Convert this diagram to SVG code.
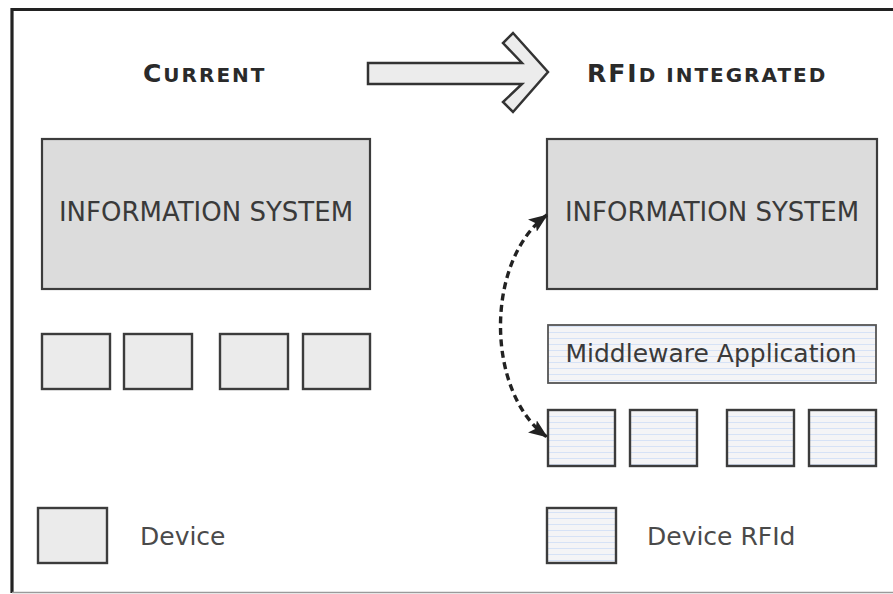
<svg xmlns="http://www.w3.org/2000/svg" width="893" height="594" viewBox="0 0 893 594">
  <defs>
    <pattern id="stripes" patternUnits="userSpaceOnUse" width="10" height="6">
      <rect width="10" height="6" fill="#f4f4f6"/>
      <rect y="2" width="10" height="1" fill="#d6e2f6"/>
    </pattern>
    <marker id="ah" viewBox="0 0 19 15" markerWidth="19" markerHeight="15" refX="18" refY="7.5" orient="auto-start-reverse" markerUnits="userSpaceOnUse">
      <path d="M0,0 L19,7.5 L0,15 L4,7.5 z" fill="#222"/>
    </marker>
    <style>
      .is { fill: #dcdcdc; stroke: #3c3c3c; stroke-width: 2.2; }
      .dev { fill: #ebebeb; stroke: #3c3c3c; stroke-width: 2.4; }
      .rfid { fill: url(#stripes); stroke: #3c3c3c; stroke-width: 2.4; }
      .mw { fill: url(#stripes); stroke: #555; stroke-width: 1.8; }
      .lbl { font-family: "DejaVu Sans", Verdana, sans-serif; font-size: 25px; fill: #3a3a3a; }
      .big { font-size: 26px; }
      .leg { font-family: "DejaVu Sans", Verdana, sans-serif; font-size: 25px; fill: #4a4a4a; }
      .ttl { font-family: "DejaVu Sans", Verdana, sans-serif; font-weight: bold; fill: #2a2a2a; letter-spacing: 2px; }
    </style>
  </defs>

  <g id="frame">
    <path d="M12,593 L12,9.5 L893,9.5" fill="none" stroke="#222" stroke-width="3.2"/>
    <line x1="12" y1="592.5" x2="893" y2="592.5" stroke="#9a9a9a" stroke-width="1.5"/>
  </g>

  <g id="title-current">
    <text class="ttl" x="143" y="82"><tspan font-size="25">C</tspan><tspan font-size="20">URRENT</tspan></text>
  </g>

  <g id="transition-arrow">
    <path d="M368,63 L522,63 L503,43 L513,33 L548,72 L513,112 L503,102 L522,84 L368,84 Z" fill="#ececec" stroke="#333" stroke-width="2.5" stroke-linejoin="miter"/>
  </g>

  <g id="title-rfid">
    <text class="ttl" x="587" y="82" letter-spacing="2.2"><tspan font-size="25">RFI</tspan><tspan font-size="20">D INTEGRATED</tspan></text>
  </g>

  <g id="is-current">
    <rect class="is" x="42" y="139" width="328" height="150"/>
    <text class="lbl big" x="206" y="221" text-anchor="middle">INFORMATION SYSTEM</text>
  </g>

  <g id="devices-current">
    <rect class="dev" x="42" y="334" width="68" height="55"/>
    <rect class="dev" x="124" y="334" width="68" height="55"/>
    <rect class="dev" x="220" y="334" width="68" height="55"/>
    <rect class="dev" x="303" y="334" width="67" height="55"/>
  </g>

  <g id="is-rfid">
    <rect class="is" x="547" y="139" width="330" height="150"/>
    <text class="lbl big" x="712" y="221" text-anchor="middle">INFORMATION SYSTEM</text>
  </g>

  <g id="middleware">
    <rect class="mw" x="548" y="325" width="328" height="58"/>
    <text class="lbl" x="711" y="362" text-anchor="middle">Middleware Application</text>
  </g>

  <g id="devices-rfid">
    <rect class="rfid" x="548" y="410" width="67" height="56"/>
    <rect class="rfid" x="630" y="410" width="67" height="56"/>
    <rect class="rfid" x="727" y="410" width="67" height="56"/>
    <rect class="rfid" x="809" y="410" width="67" height="56"/>
  </g>

  <g id="connectors">
    <path d="M547,215 C485,260 485,392 547,437" fill="none" stroke="#222" stroke-width="3.4" stroke-dasharray="7 4.5" marker-start="url(#ah)" marker-end="url(#ah)"/>
  </g>

  <g id="legend-device">
    <rect class="dev" x="38" y="508" width="69" height="55"/>
    <text class="leg" x="140" y="545">Device</text>
  </g>

  <g id="legend-rfid">
    <rect class="rfid" x="547" y="508" width="69" height="55"/>
    <text class="leg" x="647" y="545">Device RFId</text>
  </g>
</svg>
